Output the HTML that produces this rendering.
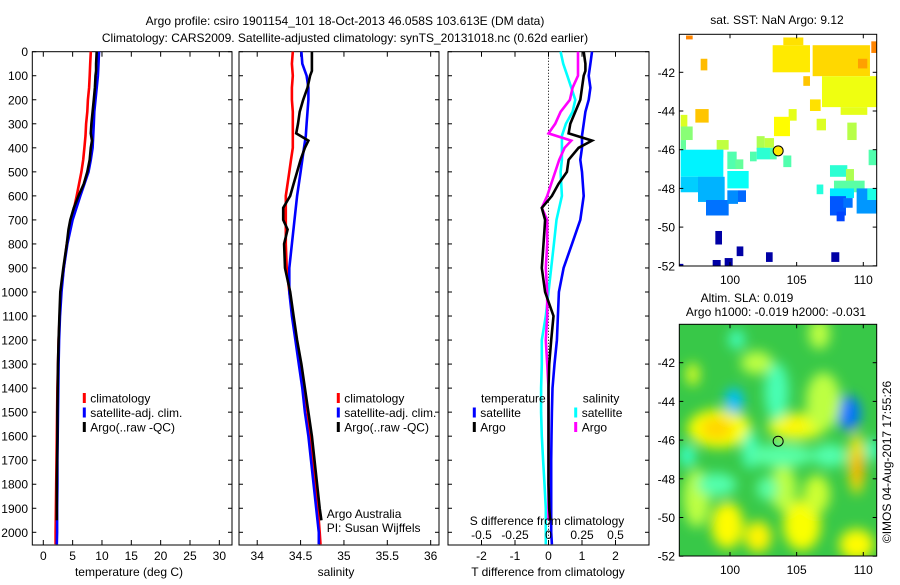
<!DOCTYPE html>
<html><head><meta charset="utf-8"><style>
html,body{margin:0;padding:0;background:#fff;}
svg text{font-family:"Liberation Sans",sans-serif;font-size:12px;fill:#000;}
</style></head><body>
<svg id="fig" width="900" height="580" xmlns="http://www.w3.org/2000/svg">
<defs>
<filter id="blur" x="-50%" y="-50%" width="200%" height="200%"><feGaussianBlur stdDeviation="6"/></filter>
<clipPath id="clipAlt"><rect x="679.3" y="324.3" width="197.4" height="231.7"/></clipPath>
<clipPath id="clipSst"><rect x="679.3" y="34.3" width="197.4" height="231.7"/></clipPath>
</defs>
<text x="345" y="25" text-anchor="middle">Argo profile: csiro 1901154_101 18-Oct-2013 46.058S 103.613E (DM data)</text>
<text x="345" y="42" text-anchor="middle">Climatology: CARS2009. Satellite-adjusted climatology: synTS_20131018.nc (0.62d earlier)</text>
<g id="g"></g>
</svg>
<script>
// ---------- data ----------
const climDepth=[0,50,100,150,200,250,300,350,400,450,500,600,700,800,900,1000,1100,1200,1300,1400,1500,1600,1700,1800,1900,2000,2050];
const tempClim=[8.1,8.0,7.9,7.8,7.6,7.5,7.3,7.2,7.0,6.8,6.5,5.7,4.8,4.0,3.5,3.0,2.8,2.6,2.5,2.4,2.35,2.3,2.25,2.2,2.15,2.1,2.1];
const tempSat=[9.5,9.4,9.3,9.1,8.9,8.7,8.6,8.5,8.4,8.1,7.7,6.3,5.0,4.1,3.5,3.1,2.85,2.7,2.6,2.55,2.5,2.45,2.4,2.4,2.35,2.35,2.3];
const argoDepth=[0,50,80,100,150,200,250,300,340,370,400,450,500,550,600,650,700,740,800,900,1000,1100,1200,1300,1400,1500,1600,1700,1800,1900,1950];
const tempArgo=[9.1,9.0,9.0,8.9,8.8,8.6,8.4,8.2,8.1,8.3,8.1,7.9,7.5,6.9,6.0,5.2,4.6,4.3,4.0,3.4,2.9,2.75,2.6,2.5,2.45,2.4,2.4,2.35,2.3,2.3,2.3];
const salClim=[34.41,34.40,34.41,34.40,34.40,34.41,34.41,34.41,34.41,34.39,34.37,34.33,34.33,34.33,34.34,34.37,34.41,34.45,34.50,34.54,34.58,34.61,34.64,34.67,34.70,34.72,34.73];
const salSat=[34.51,34.52,34.57,34.59,34.59,34.58,34.57,34.56,34.54,34.52,34.50,34.46,34.43,34.40,34.37,34.37,34.40,34.44,34.48,34.52,34.55,34.59,34.62,34.65,34.68,34.71,34.71];
const salArgo=[34.63,34.63,34.63,34.61,34.58,34.53,34.49,34.47,34.45,34.59,34.55,34.50,34.46,34.42,34.38,34.30,34.30,34.35,34.31,34.32,34.38,34.42,34.46,34.51,34.55,34.59,34.63,34.66,34.69,34.72,34.74];
const dTSat=[1.3,1.25,1.2,1.25,1.2,1.1,1.05,1.0,1.0,0.95,1.0,1.05,0.95,0.7,0.45,0.31,0.28,0.25,0.18,0.12,0.1,0.09,0.08,0.08,0.08,0.08,0.1];
const dTArgo=[1.05,1.1,1.1,1.05,1.0,0.95,0.8,0.65,0.6,1.3,0.9,0.6,0.55,0.3,0.1,-0.2,-0.1,-0.12,-0.15,-0.2,-0.1,0.15,0.08,0.02,0.0,0.0,0.0,0.0,0.0,0.02,0.05];
const dSSat=[0.09,0.11,0.14,0.17,0.2,0.18,0.13,0.1,0.1,0.1,0.09,0.1,0.06,0.04,0.02,0.0,-0.02,-0.05,-0.05,-0.055,-0.055,-0.05,-0.04,-0.03,-0.02,-0.02,-0.02];
const dSArgo=[0.22,0.22,0.22,0.22,0.18,0.16,0.09,0.05,0.0,0.17,0.12,0.08,0.05,0.02,-0.01,-0.05,-0.01,-0.01,-0.01,-0.02,-0.01,-0.01,-0.02,-0.01,0.0,0.0,0.0,0.0,0.0,0.0,0.0];
const depthTicks=[0,100,200,300,400,500,600,700,800,900,1000,1100,1200,1300,1400,1500,1600,1700,1800,1900,2000];
const tempTicks=[0,5,10,15,20,25,30];
const salTicks=[34,34.5,35,35.5,36];
const salTickLabels=["34","34.5","35","35.5","36"];
const dTTicks=[-2,-1,0,1,2];
const dSTicks=[-0.5,-0.25,0,0.25,0.5];
const dSTickLabels=["-0.5","-0.25","0","0.25","0.5"];
const lonTicks=[100,105,110];
const latTicks=[-42,-44,-46,-48,-50,-52];
const argoLon=103.613, argoLat=-46.058;
// SST cells: lon0,lat0,lon1,lat1,temperature
const sstCells=[
[103.2,-40.6,106.0,-42.0,9.1],[104.0,-40.2,105.5,-40.6,9.2],[106.2,-40.6,110.5,-42.2,9.3],[109.6,-41.3,110.3,-41.8,9.9],
[106.9,-42.2,111.0,-43.8,8.7],[108.3,-43.8,110.3,-44.2,8.6],[105.5,-42.2,106.0,-42.7,9.5],[106.0,-43.4,106.8,-44.0,9.2],
[104.4,-43.9,105.0,-44.5,8.6],[106.5,-44.4,107.2,-45.0,8.5],[103.3,-44.3,104.5,-45.3,8.9],[97.4,-43.9,98.4,-44.6,9.5],
[97.8,-41.3,98.3,-41.9,9.6],[96.7,-40.1,97.2,-40.3,10.2],[110.6,-40.4,111.0,-41.0,10.2],[96.3,-44.2,96.8,-44.8,8.5],[96.3,-44.8,97.2,-45.5,7.6],[96.3,-45.5,96.7,-46.0,7.2],
[99.0,-45.5,99.9,-46.0,8.2],[98.9,-46.0,99.5,-46.4,7.1],[102.0,-45.3,102.6,-46.0,8.0],[102.6,-45.4,103.3,-45.9,8.2],
[96.3,-46.0,99.5,-47.4,6.0],[96.3,-47.4,99.5,-48.2,5.6],[97.6,-47.4,99.6,-48.7,5.3],[98.2,-48.6,99.9,-49.4,4.6],[99.8,-48.1,100.6,-48.8,4.9],
[99.8,-47.1,101.4,-48.0,6.2],[100.6,-48.1,101.2,-48.7,4.5],[99.8,-46.1,100.5,-47.0,7.0],[100.4,-46.5,101.0,-47.0,7.2],
[101.5,-46.1,102.0,-46.6,7.0],[102.0,-45.9,103.0,-46.5,6.6],[103.0,-45.9,103.5,-46.5,7.0],[104.0,-46.3,104.6,-46.9,7.0],
[107.5,-46.8,108.8,-47.4,6.6],[108.7,-47.0,109.3,-47.8,8.0],[107.8,-47.6,110.1,-48.2,7.1],[106.5,-47.8,107.0,-48.3,6.5],
[107.5,-48.0,109.3,-48.5,5.9],[107.5,-48.4,108.7,-49.4,4.3],[108.5,-48.5,109.2,-49.0,4.6],[108.0,-49.2,108.6,-49.7,4.1],
[109.5,-48.0,111.0,-49.3,5.0],[110.3,-48.0,111.0,-48.6,6.4],[110.4,-46.0,111.0,-46.8,7.0],[108.8,-44.6,109.5,-45.5,8.1],
[98.9,-50.2,99.4,-50.9,2.4],[100.5,-51.0,101.0,-51.5,2.4],[98.7,-51.7,99.3,-52.1,2.4],[99.6,-51.6,100.2,-52.1,2.4],
[102.7,-51.3,103.2,-51.8,2.4],[107.6,-51.3,108.2,-51.8,2.4],[96.2,-51.9,96.5,-52.1,2.5]];
// altimetry anomaly blobs: lon,lat,rlon,rlat,sla
const slaBlobs=[
[99.2,-45.4,2.4,1.0,0.16],[99.0,-45.4,1.2,0.6,0.22],[105.0,-45.3,2.2,0.7,0.14],[104.7,-45.2,1.0,0.4,0.18],
[100.3,-44.0,0.7,0.7,-0.25],[108.9,-44.6,0.9,0.9,-0.35],[109.5,-47.2,0.6,1.6,0.2],[109.6,-47.5,0.4,0.8,0.28],
[99.8,-50.4,1.2,1.2,0.17],[102.1,-51.0,1.0,0.8,0.18],[105.4,-50.4,1.4,1.3,0.16],[109.5,-51.4,1.3,0.8,0.17],
[97.2,-42.6,0.5,0.6,0.12],[102.0,-42.0,1.2,0.6,0.08],[106.7,-40.5,0.8,0.8,0.08],[107.0,-44.0,1.3,1.5,0.08],
[97.5,-49.0,1.0,1.5,0.08],[106.5,-48.8,1.0,1.0,0.1],[104.0,-48.5,1.0,1.2,0.08],
[101.5,-46.5,0.6,1.0,-0.08],[103.5,-43.5,0.9,1.5,-0.07],[96.8,-46.8,0.6,0.6,-0.09],[100.5,-40.8,0.6,0.5,-0.08],
[107.5,-46.8,1.3,0.6,-0.06],[110.7,-46.5,0.5,0.6,-0.09],[99.0,-48.3,1.5,0.6,-0.06],[102.8,-48.5,0.8,0.6,-0.05],[103.8,-46.8,2.5,0.6,-0.05]];

// ---------- helpers ----------
const NS="http://www.w3.org/2000/svg";
const G=document.getElementById('g');
function mk(tag,attrs,parent,txt){const e=document.createElementNS(NS,tag);for(const k in attrs)e.setAttribute(k,attrs[k]);if(txt!==undefined)e.textContent=txt;(parent||G).appendChild(e);return e;}
const yTop=51.7,yBot=545;
const yD=d=>yTop+d*0.2403;
const p1={l:32.3,r:232,min:-1.875,max:32.16};
const p2={l:239,r:439,min:33.79,max:36.096};
const p3={l:448,r:649,min:-3,max:3};
function xs(p,v){return p.l+(v-p.min)/(p.max-p.min)*(p.r-p.l);}
function line(p,vals,depths,color,name){
  const pts=vals.map((v,i)=>xs(p,v).toFixed(1)+','+yD(depths[i]).toFixed(1)).join(' ');
  const e=mk('polyline',{points:pts,fill:'none',stroke:color,'stroke-width':2.6,'stroke-linejoin':'miter'});
  
  
}
function frame(p,name){
  const e=mk('rect',{x:p.l,y:yTop,width:p.r-p.l,height:yBot-yTop,fill:'none',stroke:'#000','stroke-width':1});
  
  
  depthTicks.forEach(d=>{const y=yD(d);
    mk('line',{x1:p.l,x2:p.l+4,y1:y,y2:y,stroke:'#000'});mk('line',{x1:p.r,x2:p.r-4,y1:y,y2:y,stroke:'#000'});});
}
function xticks(p,ticks,labels,name){
  ticks.forEach((t,i)=>{const x=xs(p,t);
    mk('line',{x1:x,x2:x,y1:yBot,y2:yBot-5,stroke:'#000'});mk('line',{x1:x,x2:x,y1:yTop,y2:yTop+5,stroke:'#000'});
    const tx=mk('text',{x:x,y:560,'text-anchor':'middle'},G,labels[i]);
    
    });
}
function legendEntry(x,y,color,label,name){
  const r=mk('rect',{x:x-1.5,y:y-5,width:3,height:10,fill:color});
  
  
  const t=mk('text',{x:x+6,y:y+4.5},G,label);
  
  
}

depthTicks.forEach(d=>{const t=mk('text',{x:28,y:yD(d)+4.5,'text-anchor':'end'},G,String(d));
  
  });

// panel 1 temperature
frame(p1,'temperature-axes');
xticks(p1,tempTicks,tempTicks.map(String),'temperature');
line(p1,tempClim,climDepth,'#ff0000','temperature-climatology-line');
line(p1,tempSat,climDepth,'#0000ff','temperature-satellite-line');
line(p1,tempArgo,argoDepth,'#000000','temperature-argo-line');
let t=mk('text',{x:129,y:576,'text-anchor':'middle'},G,'temperature (deg C)');


legendEntry(84.3,398,'#ff0000','climatology','legend-climatology');
legendEntry(84.3,412.5,'#0000ff','satellite-adj. clim.','legend-satellite');
legendEntry(84.3,427,'#000000','Argo(..raw -QC)','legend-argo');

// panel 2 salinity
frame(p2,'salinity-axes');
xticks(p2,salTicks,salTickLabels,'salinity');
line(p2,salClim,climDepth,'#ff0000','salinity-climatology-line');
line(p2,salSat,climDepth,'#0000ff','salinity-satellite-line');
line(p2,salArgo,argoDepth,'#000000','salinity-argo-line');
t=mk('text',{x:336,y:576,'text-anchor':'middle'},G,'salinity');


legendEntry(338.3,398,'#ff0000','climatology','legend-climatology-2');
legendEntry(338.3,412.5,'#0000ff','satellite-adj. clim.','legend-satellite-2');
legendEntry(338.3,427,'#000000','Argo(..raw -QC)','legend-argo-2');
t=mk('text',{x:326.7,y:518},G,'Argo Australia');


t=mk('text',{x:326.7,y:532},G,'PI: Susan Wijffels');



// panel 3 differences
frame(p3,'difference-axes');
xticks(p3,dTTicks,dTTicks.map(String),'t-difference');
t=mk('line',{x1:xs(p3,0),x2:xs(p3,0),y1:yTop,y2:yBot,stroke:'#000','stroke-dasharray':'1,2','stroke-width':1});


const sx=v=>v*4;
line(p3,dSSat.map(sx),climDepth,'#00ffff','salinity-diff-satellite-line');
line(p3,dSArgo.map(sx),argoDepth,'#ff00ff','salinity-diff-argo-line');
line(p3,dTSat,climDepth,'#0000ff','temperature-diff-satellite-line');
line(p3,dTArgo,argoDepth,'#000000','temperature-diff-argo-line');
dSTicks.forEach((v,i)=>{const tx=mk('text',{x:xs(p3,v*4),y:539,'text-anchor':'middle'},G,dSTickLabels[i]);
  
  });
t=mk('text',{x:547,y:525,'text-anchor':'middle'},G,'S difference from climatology');


t=mk('text',{x:548,y:576,'text-anchor':'middle'},G,'T difference from climatology');


t=mk('text',{x:481,y:402.5},G,'temperature');


t=mk('text',{x:582.7,y:402.5},G,'salinity');


legendEntry(474.3,412.5,'#0000ff','satellite','legend-t-satellite');
legendEntry(474.3,427,'#000000','Argo','legend-t-argo');
legendEntry(575.7,412.5,'#00ffff','satellite','legend-s-satellite');
legendEntry(575.7,427,'#ff00ff','Argo','legend-s-argo');

// ---------- maps ----------
const mL=679.3,mR=876.7,lonPx=13.33;
const mx=lon=>730+(lon-100)*lonPx;
function jet(v){const c=x=>Math.round(255*Math.max(0,Math.min(1,x)));
  return `rgb(${c(1.5-Math.abs(4*v-3))},${c(1.5-Math.abs(4*v-2))},${c(1.5-Math.abs(4*v-1))})`;}
function mapAxes(top,bot,y42,name){
  const my=lat=>y42+(-42-lat)*19.35;
  const f=mk('rect',{x:mL,y:top,width:mR-mL,height:bot-top,fill:'none',stroke:'#000'});
  
  
  lonTicks.forEach(l=>{const x=mx(l);mk('line',{x1:x,x2:x,y1:bot,y2:bot-4,stroke:'#000'});mk('line',{x1:x,x2:x,y1:top,y2:top+4,stroke:'#000'});
    const tx=mk('text',{x:x,y:bot+18,'text-anchor':'middle'},G,String(l));
    
    });
  latTicks.forEach(l=>{const y=my(l);mk('line',{x1:mL,x2:mL+4,y1:y,y2:y,stroke:'#000'});mk('line',{x1:mR,x2:mR-4,y1:y,y2:y,stroke:'#000'});
    const tx=mk('text',{x:675,y:y+4.5,'text-anchor':'end'},G,String(l));
    
    });
  return my;
}
// SST map
const sstG=mk('g',{'clip-path':'url(#clipSst)'});


const myS=lat=>72.3+(-42-lat)*19.35;
sstCells.forEach(c=>{const r=mk('rect',{x:mx(c[0]),y:myS(c[1]),width:(c[2]-c[0])*lonPx,height:(c[1]-c[3])*19.35,fill:jet((c[4]-2)/11)},sstG);
  
  });
mapAxes(34.3,266,72.3,'sst-map');
t=mk('circle',{cx:mx(argoLon),cy:myS(argoLat),r:5,fill:jet((9.12-2)/11),stroke:'#000'});


t=mk('text',{x:777,y:24,'text-anchor':'middle'},G,'sat. SST: NaN Argo: 9.12');



// Altimetry map
const myA=lat=>362.7+(-42-lat)*19.35;
const altG=mk('g',{'clip-path':'url(#clipAlt)'});


mk('rect',{x:mL,y:324.3,width:mR-mL,height:231.7,fill:'#38c848'},altG);
const blobG=mk('g',{filter:'url(#blur)'},altG);
function slaColor(s){return jet(0.5+s*0.75);}
slaBlobs.forEach(b=>{const e=mk('ellipse',{cx:mx(b[0]),cy:myA(b[1]),rx:b[2]*lonPx,ry:b[3]*19.35,fill:slaColor(b[4])},blobG);
  
  });
mapAxes(324.3,556,362.7,'sla-map');
t=mk('circle',{cx:mx(argoLon),cy:myA(argoLat),r:5,fill:'none',stroke:'#000'});


t=mk('text',{x:747,y:302,'text-anchor':'middle'},G,'Altim. SLA: 0.019');


t=mk('text',{x:776,y:316,'text-anchor':'middle'},G,'Argo h1000: -0.019 h2000: -0.031');


t=mk('text',{x:891,y:462,'text-anchor':'middle',transform:'rotate(-90 891 462)'},G,'©IMOS 04-Aug-2017 17:55:26');


</script>
</body></html>
